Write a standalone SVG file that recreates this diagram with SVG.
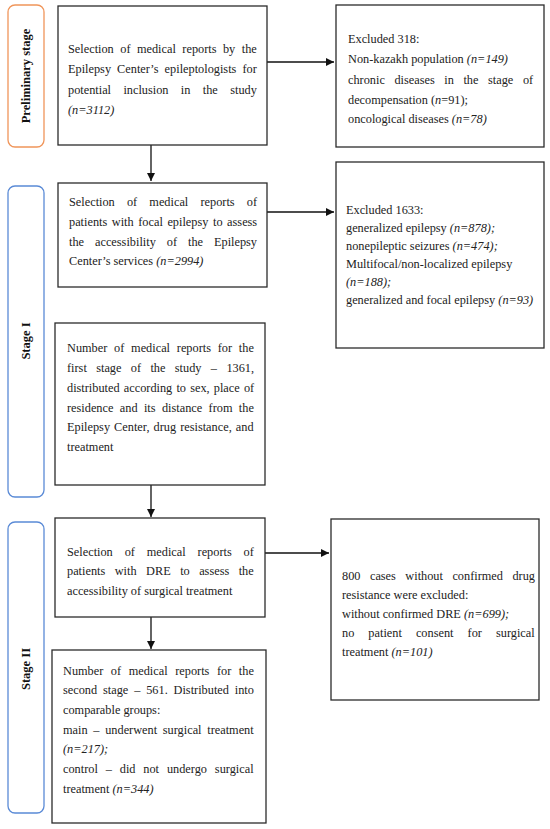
<svg xmlns="http://www.w3.org/2000/svg" width="550" height="829" viewBox="0 0 550 829">
<style>
.box{fill:#fff;stroke:#2b2b2b;stroke-width:1.3}
.stg{fill:#fff;stroke-width:1.3}
.t{font-family:"Liberation Serif","Times New Roman",serif;font-size:12.3px;fill:#222}
.i{font-style:italic}
.lbl{font-family:"Liberation Serif","Times New Roman",serif;font-size:12.5px;font-weight:bold;fill:#111}
.c{stroke:#111;stroke-width:1.3;fill:none}
</style>
<defs>
<marker id="ah" viewBox="0 0 10 10" refX="10" refY="5" markerWidth="8" markerHeight="8" markerUnits="userSpaceOnUse" orient="auto">
<path d="M0,0 L10,5 L0,10 z" fill="#111"/>
</marker>
</defs>
<rect width="550" height="829" fill="#fff"/>

<g id="stage-prelim">
<rect class="stg" x="8" y="5" width="36" height="142" rx="7" stroke="#F0955A"/>
<text class="lbl" transform="translate(30,76) rotate(-90)" text-anchor="middle">Preliminary stage</text>
</g>
<g id="stage-1">
<rect class="stg" x="8" y="186" width="36" height="311" rx="7" stroke="#5A8AD6"/>
<text class="lbl" transform="translate(30,341) rotate(-90)" text-anchor="middle">Stage I</text>
</g>
<g id="stage-2">
<rect class="stg" x="8" y="522" width="36" height="291" rx="7" stroke="#5A8AD6"/>
<text class="lbl" transform="translate(30,669) rotate(-90)" text-anchor="middle">Stage II</text>
</g>

<g id="connectors">
<line class="c" x1="151" y1="145" x2="151" y2="181" marker-end="url(#ah)"/>
<line class="c" x1="151" y1="485" x2="151" y2="517" marker-end="url(#ah)"/>
<line class="c" x1="151" y1="617" x2="151" y2="649" marker-end="url(#ah)"/>
<line class="c" x1="267" y1="62" x2="334" y2="62" marker-end="url(#ah)"/>
<line class="c" x1="267" y1="212" x2="334" y2="212" marker-end="url(#ah)"/>
<line class="c" x1="265" y1="553" x2="329" y2="553" marker-end="url(#ah)"/>
</g>

<g id="box1">
<rect class="box" x="58" y="6" width="209" height="139"/>
<text class="t" x="68" y="53" word-spacing="3.4">Selection of medical reports by the</text>
<text class="t" x="68" y="73" word-spacing="3.0">Epilepsy Center’s epileptologists for</text>
<text class="t" x="68" y="94" word-spacing="9.3">potential inclusion in the study</text>
<text class="t i" x="68" y="114">(n=3112)</text>
</g>

<g id="excl1">
<rect class="box" x="336" y="5" width="208" height="142"/>
<text class="t" x="348" y="43">Excluded 318:</text>
<text class="t" x="348" y="63">Non-kazakh population <tspan class="i">(n=149)</tspan></text>
<text class="t" x="348" y="84" word-spacing="6.5">chronic diseases in the stage of</text>
<text class="t" x="348" y="104">decompensation (<tspan class="i">n</tspan>=91);</text>
<text class="t" x="348" y="123">oncological diseases <tspan class="i">(n=78)</tspan></text>
</g>

<g id="box2">
<rect class="box" x="58" y="183" width="209" height="104"/>
<text class="t" x="69" y="206" word-spacing="9.1">Selection of medical reports of</text>
<text class="t" x="69" y="226" word-spacing="1.5">patients with focal epilepsy to assess</text>
<text class="t" x="69" y="246" word-spacing="7.9">the accessibility of the Epilepsy</text>
<text class="t" x="69" y="265">Center’s services <tspan class="i">(n=2994)</tspan></text>
</g>

<g id="excl2">
<rect class="box" x="336" y="162" width="208" height="186"/>
<text class="t" x="346" y="214">Excluded 1633:</text>
<text class="t" x="346" y="232">generalized epilepsy <tspan class="i">(n=878);</tspan></text>
<text class="t" x="346" y="250">nonepileptic seizures <tspan class="i">(n=474);</tspan></text>
<text class="t" x="346" y="268">Multifocal/non-localized epilepsy</text>
<text class="t i" x="346" y="286">(n=188);</text>
<text class="t" x="346" y="304">generalized and focal epilepsy <tspan class="i">(n=93)</tspan></text>
</g>

<g id="box3">
<rect class="box" x="55" y="323" width="210" height="162"/>
<text class="t" x="67" y="352" word-spacing="3.7">Number of medical reports for the</text>
<text class="t" x="67" y="372" word-spacing="6.3">first stage of the study – 1361,</text>
<text class="t" x="67" y="392" word-spacing="1.1">distributed according to sex, place of</text>
<text class="t" x="67" y="412" word-spacing="3.3">residence and its distance from the</text>
<text class="t" x="67" y="431" word-spacing="1.0">Epilepsy Center, drug resistance, and</text>
<text class="t" x="67" y="451">treatment</text>
</g>

<g id="box4">
<rect class="box" x="55" y="518" width="210" height="99"/>
<text class="t" x="67" y="556" word-spacing="8.8">Selection of medical reports of</text>
<text class="t" x="67" y="575" word-spacing="6.4">patients with DRE to assess the</text>
<text class="t" x="67" y="595">accessibility of surgical treatment</text>
</g>

<g id="excl3">
<rect class="box" x="331" y="519" width="208" height="181"/>
<text class="t" x="342" y="580" word-spacing="6.4">800 cases without confirmed drug</text>
<text class="t" x="342" y="599">resistance were excluded:</text>
<text class="t" x="342" y="618">without confirmed DRE <tspan class="i">(n=699);</tspan></text>
<text class="t" x="342" y="637" word-spacing="11.0">no patient consent for surgical</text>
<text class="t" x="342" y="656">treatment <tspan class="i">(n=101)</tspan></text>
</g>

<g id="box5">
<rect class="box" x="52" y="650" width="214" height="173"/>
<text class="t" x="63" y="675" word-spacing="4.5">Number of medical reports for the</text>
<text class="t" x="63" y="694" word-spacing="2.8">second stage – 561. Distributed into</text>
<text class="t" x="63" y="714">comparable groups:</text>
<text class="t" x="63" y="734" word-spacing="2.65">main – underwent surgical treatment</text>
<text class="t i" x="63" y="753">(n=217);</text>
<text class="t" x="63" y="773" word-spacing="4.8">control – did not undergo surgical</text>
<text class="t" x="63" y="793">treatment <tspan class="i">(n=344)</tspan></text>
</g>
</svg>
